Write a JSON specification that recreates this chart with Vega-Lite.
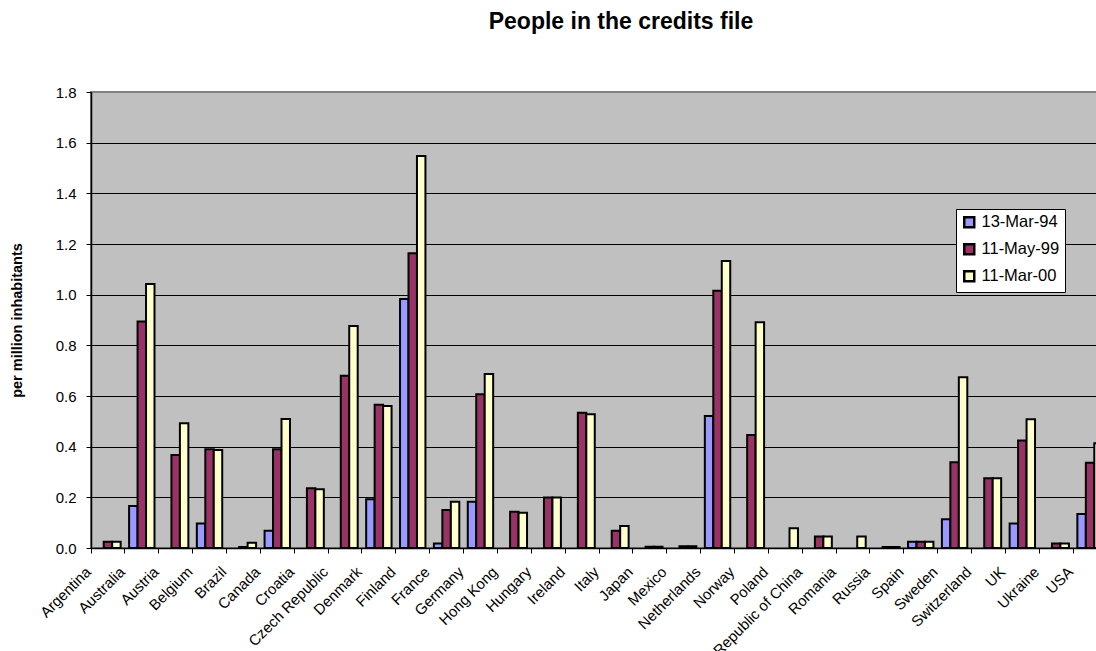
{
  "$schema": "https://vega.github.io/schema/vega-lite/v6.json",
  "width": 1016,
  "height": 456,
  "autosize": {"type": "none"},
  "padding": {"left": 91, "top": 92, "right": -11, "bottom": 103},
  "background": "white",
  "title": {
    "text": "People in the credits file",
    "fontSize": 23,
    "fontWeight": "bold",
    "font": "Liberation Sans",
    "color": "black",
    "anchor": "middle",
    "frame": "group",
    "dx": 22,
    "baseline": "alphabetic",
    "offset": 33
  },
  "config": {
    "font": "Liberation Sans",
    "view": {"fill": "#C0C0C0", "stroke": "#808080", "strokeWidth": 2}
  },
  "data": {
    "values": [
      {"country": "Argentina", "date": "11-May-99", "value": 0.025},
      {"country": "Argentina", "date": "11-Mar-00", "value": 0.025},
      {"country": "Australia", "date": "13-Mar-94", "value": 0.166},
      {"country": "Australia", "date": "11-May-99", "value": 0.894},
      {"country": "Australia", "date": "11-Mar-00", "value": 1.042},
      {"country": "Austria", "date": "11-May-99", "value": 0.367},
      {"country": "Austria", "date": "11-Mar-00", "value": 0.492},
      {"country": "Belgium", "date": "13-Mar-94", "value": 0.097},
      {"country": "Belgium", "date": "11-May-99", "value": 0.39},
      {"country": "Belgium", "date": "11-Mar-00", "value": 0.387},
      {"country": "Brazil", "date": "11-May-99", "value": 0.004},
      {"country": "Brazil", "date": "11-Mar-00", "value": 0.021},
      {"country": "Canada", "date": "13-Mar-94", "value": 0.068},
      {"country": "Canada", "date": "11-May-99", "value": 0.39},
      {"country": "Canada", "date": "11-Mar-00", "value": 0.509},
      {"country": "Croatia", "date": "11-May-99", "value": 0.236},
      {"country": "Croatia", "date": "11-Mar-00", "value": 0.232},
      {"country": "Czech Republic", "date": "11-May-99", "value": 0.68},
      {"country": "Czech Republic", "date": "11-Mar-00", "value": 0.876},
      {"country": "Denmark", "date": "13-Mar-94", "value": 0.192},
      {"country": "Denmark", "date": "11-May-99", "value": 0.565},
      {"country": "Denmark", "date": "11-Mar-00", "value": 0.561},
      {"country": "Finland", "date": "13-Mar-94", "value": 0.983},
      {"country": "Finland", "date": "11-May-99", "value": 1.163},
      {"country": "Finland", "date": "11-Mar-00", "value": 1.547},
      {"country": "France", "date": "13-Mar-94", "value": 0.018},
      {"country": "France", "date": "11-May-99", "value": 0.15},
      {"country": "France", "date": "11-Mar-00", "value": 0.183},
      {"country": "Germany", "date": "13-Mar-94", "value": 0.183},
      {"country": "Germany", "date": "11-May-99", "value": 0.607},
      {"country": "Germany", "date": "11-Mar-00", "value": 0.687},
      {"country": "Hong Kong", "date": "11-May-99", "value": 0.143},
      {"country": "Hong Kong", "date": "11-Mar-00", "value": 0.139},
      {"country": "Hungary", "date": "11-May-99", "value": 0.199},
      {"country": "Hungary", "date": "11-Mar-00", "value": 0.199},
      {"country": "Ireland", "date": "11-May-99", "value": 0.534},
      {"country": "Ireland", "date": "11-Mar-00", "value": 0.528},
      {"country": "Italy", "date": "11-May-99", "value": 0.068},
      {"country": "Italy", "date": "11-Mar-00", "value": 0.087},
      {"country": "Japan", "date": "11-May-99", "value": 0.005},
      {"country": "Japan", "date": "11-Mar-00", "value": 0.005},
      {"country": "Mexico", "date": "11-May-99", "value": 0.007},
      {"country": "Mexico", "date": "11-Mar-00", "value": 0.007},
      {"country": "Netherlands", "date": "13-Mar-94", "value": 0.521},
      {"country": "Netherlands", "date": "11-May-99", "value": 1.015},
      {"country": "Netherlands", "date": "11-Mar-00", "value": 1.133},
      {"country": "Norway", "date": "11-May-99", "value": 0.446},
      {"country": "Norway", "date": "11-Mar-00", "value": 0.891},
      {"country": "Poland", "date": "11-Mar-00", "value": 0.078},
      {"country": "Republic of China", "date": "11-May-99", "value": 0.045},
      {"country": "Republic of China", "date": "11-Mar-00", "value": 0.045},
      {"country": "Romania", "date": "11-Mar-00", "value": 0.045},
      {"country": "Russia", "date": "11-May-99", "value": 0.004},
      {"country": "Russia", "date": "11-Mar-00", "value": 0.004},
      {"country": "Spain", "date": "13-Mar-94", "value": 0.025},
      {"country": "Spain", "date": "11-May-99", "value": 0.025},
      {"country": "Spain", "date": "11-Mar-00", "value": 0.025},
      {"country": "Sweden", "date": "13-Mar-94", "value": 0.113},
      {"country": "Sweden", "date": "11-May-99", "value": 0.338},
      {"country": "Sweden", "date": "11-Mar-00", "value": 0.674},
      {"country": "Switzerland", "date": "11-May-99", "value": 0.275},
      {"country": "Switzerland", "date": "11-Mar-00", "value": 0.275},
      {"country": "UK", "date": "13-Mar-94", "value": 0.097},
      {"country": "UK", "date": "11-May-99", "value": 0.424},
      {"country": "UK", "date": "11-Mar-00", "value": 0.508},
      {"country": "Ukraine", "date": "11-May-99", "value": 0.018},
      {"country": "Ukraine", "date": "11-Mar-00", "value": 0.018},
      {"country": "USA", "date": "13-Mar-94", "value": 0.134},
      {"country": "USA", "date": "11-May-99", "value": 0.337},
      {"country": "USA", "date": "11-Mar-00", "value": 0.413}
    ]
  },
  "mark": {"type": "bar", "stroke": "black", "strokeWidth": 2},
  "encoding": {
    "x": {
      "field": "country",
      "type": "nominal",
      "scale": {
        "domain": ["Argentina", "Australia", "Austria", "Belgium", "Brazil", "Canada", "Croatia", "Czech Republic", "Denmark", "Finland", "France", "Germany", "Hong Kong", "Hungary", "Ireland", "Italy", "Japan", "Mexico", "Netherlands", "Norway", "Poland", "Republic of China", "Romania", "Russia", "Spain", "Sweden", "Switzerland", "UK", "Ukraine", "USA"],
        "paddingInner": 0,
        "paddingOuter": 0
      },
      "axis": {
        "title": null,
        "bandPosition": 0,
        "labelAngle": -45,
        "labelAlign": "right",
        "labelBaseline": "top",
        "labelFontSize": 15,
        "labelColor": "black",
        "labelPadding": 11,
        "labelOffset": -24.5,
        "labelOverlap": false,
        "labelLimit": 300,
        "domainColor": "black",
        "domainWidth": 1.5,
        "tickColor": "black",
        "tickSize": 5,
        "tickWidth": 1,
        "grid": false
      }
    },
    "xOffset": {
      "field": "date",
      "type": "nominal",
      "scale": {"domain": ["13-Mar-94", "11-May-99", "11-Mar-00"], "paddingInner": 0, "paddingOuter": 0.5}
    },
    "y": {
      "field": "value",
      "type": "quantitative",
      "scale": {"domain": [0, 1.8], "nice": false, "zero": true},
      "axis": {
        "title": "per million inhabitants",
        "titleFontSize": 14.5,
        "titleFontWeight": "bold",
        "titleColor": "black",
        "titlePadding": 31,
        "values": [0, 0.2, 0.4, 0.6, 0.8, 1.0, 1.2, 1.4, 1.6, 1.8],
        "format": ".1f",
        "labelFontSize": 15,
        "labelColor": "black",
        "labelPadding": 10,
        "domainColor": "black",
        "domainWidth": 1.5,
        "tickColor": "black",
        "tickSize": 5,
        "tickWidth": 1,
        "grid": true,
        "gridColor": {"condition": {"test": "datum.value >= 1.79", "value": "#808080"}, "value": "black"},
        "gridWidth": 1
      }
    },
    "color": {
      "field": "date",
      "type": "nominal",
      "scale": {"domain": ["13-Mar-94", "11-May-99", "11-Mar-00"], "range": ["#9999FF", "#993366", "#FFFFCC"]},
      "legend": {
        "title": null,
        "orient": "none",
        "legendX": 865,
        "legendY": 117,
        "fillColor": "white",
        "strokeColor": "black",
        "padding": 5,
        "symbolType": "square",
        "symbolSize": 100,
        "symbolStrokeColor": "black",
        "symbolStrokeWidth": 2.5,
        "labelFontSize": 16.5,
        "labelColor": "black",
        "labelOffset": 4,
        "rowPadding": 6
      }
    }
  }
}
